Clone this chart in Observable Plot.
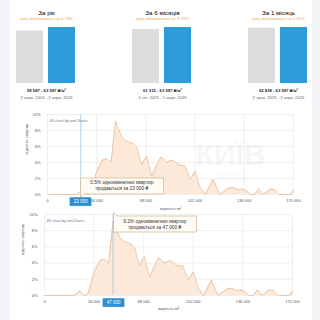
<!DOCTYPE html>
<html><head><meta charset="utf-8">
<script src="https://cdn.jsdelivr.net/npm/d3@7"></script>
<script src="https://cdn.jsdelivr.net/npm/@observablehq/plot@0.6"></script>
<style>
html,body{margin:0;padding:0;width:320px;height:320px;overflow:hidden;background:#f4f5f9;font-family:Roboto,"Liberation Sans",sans-serif;}
#card{position:absolute;left:10px;top:0;width:302px;height:320px;background:#fff;}
.chart{position:absolute;left:0;width:320px;}
#top{top:0}
#c1{top:105px}
#c2{top:205px}
</style></head><body>
<div id="card"></div>
<div id="top" class="chart"></div>
<div id="c1" class="chart"></div>
<div id="c2" class="chart"></div>
<script>
// ---- top panels ----
const periodLabels = ["За рік", "За 6 місяців", "За 1 місяць"];
const changeLabels = ["ціна збільшилась на 6.73%", "ціна збільшилась на 3.71%", "ціна збільшилась на 1.21%"];
const startPrices = [59587, 61315, 62838];
const endPrices = [63597, 63597, 63597];
const dateRanges = ["2 черв. 2024 - 2 черв. 2025", "1 січ. 2025 - 2 черв. 2025", "2 трав. 2025 - 2 черв. 2025"];

// ---- distribution ----
const priceBins = [0, 20000, 22000, 24000, 26000, 28000, 30000, 34000, 38000, 41000, 44000, 47000, 49000, 52000, 55000, 59000, 62000, 65000, 68500, 72000, 76000, 78500, 82000, 86000, 91000, 95000, 98500, 102000, 105500, 109000, 114500, 119000, 125000, 128000, 132000, 135000, 138000, 140000, 143000, 146000, 149000, 154000, 157000, 160000, 168000, 170000];
const apartmentShares = [0, 0, 0.2, 0.6, 0.2, 0, 0.3, 2.9, 4.3, 4.5, 4.0, 9.2, 8.2, 7.0, 6.6, 6.4, 5.8, 3.7, 4.8, 2.3, 3.9, 4.7, 4.0, 4.3, 3.7, 3.6, 1.9, 2.9, 0.9, 0, 1.9, 0, 0.8, 0.9, 0.6, 0.7, 0.4, 0, 0, 0.7, 0, 0.7, 0.6, 0, 0, 0.6];
const xTickValues = [0, 34000, 68000, 102000, 136000, 170000];
const yTickValues = [0, 2, 4, 6, 8, 10];
const cursorPrices = [23000, 47000];
const cursorShares = [0.5, 9.2];

const fmt = n => d3.format(",")(n).replace(/,/g, " ");
const FONT = "'Liberation Sans', Roboto, sans-serif";

// top plot
const panels = periodLabels.map((p, i) => ({
  period: p, change: changeLabels[i],
  range: `${fmt(startPrices[i])} - ${fmt(endPrices[i])} ₴/м²`,
  dates: dateRanges[i]
}));
const bars = periodLabels.flatMap((p, i) => [
  {period: p, kind: "start", value: startPrices[i]},
  {period: p, kind: "end", value: endPrices[i]}
]);

const topPlot = Plot.plot({
  width: 320, height: 105,
  marginTop: 27, marginBottom: 22, marginLeft: 16, marginRight: 12,
  style: {background: "transparent", fontFamily: FONT, overflow: "visible", color: "#000"},
  fx: {domain: periodLabels, paddingInner: 0.485, paddingOuter: 0, axis: null, label: null},
  x: {domain: ["start", "end"], paddingInner: 0.15, paddingOuter: 0, axis: null},
  y: {domain: [0, d3.max(endPrices)], axis: null},
  color: {domain: ["start", "end"], range: ["#dcdcdc", "#2d9cd8"]},
  marks: [
    Plot.barY(bars, {fx: "period", x: "kind", y: "value", fill: "kind"}),
    Plot.text(panels, {fx: "period", text: "period", frameAnchor: "top", dy: -17, fontSize: 6.2, fill: "black"}),
    Plot.text(panels, {fx: "period", text: "change", frameAnchor: "top", dy: -10, fontSize: 4.2, fill: "#e5a23f"}),
    Plot.text(panels, {fx: "period", text: "range", frameAnchor: "bottom", dy: 8, fontSize: 4.2, fontWeight: "bold", fill: "#222222"}),
    Plot.text(panels, {fx: "period", text: "dates", frameAnchor: "bottom", dy: 15, fontSize: 4.2, fill: "#666666"})
  ]
});
document.getElementById("top").append(topPlot);

const dist = priceBins.map((p, i) => ({price: p, share: apartmentShares[i]}));
const pad = "\u2002\u2002\u2002";

function areaChart({idx, height, marginTop, marginBottom, marginLeft, marginRight, tipAnchor, tipDy, labelDy, ylabelDx, watermark}) {
  const cur = [{price: cursorPrices[idx], share: cursorShares[idx]}];
  const marks = [
    Plot.gridX(xTickValues, {stroke: "#e4e4e4", strokeOpacity: 1, strokeWidth: 0.6}),
    Plot.gridY(yTickValues, {stroke: "#e4e4e4", strokeOpacity: 1, strokeWidth: 0.6}),
    Plot.areaY(dist, {x: "price", y: "share", fill: "#fde9da"}),
    Plot.lineY(dist, {x: "price", y: "share", stroke: "#e3b48e", strokeWidth: 0.7})
  ];
  if (watermark) {
    marks.push(
      Plot.text(["КИЇВ"], {text: d => d, frameAnchor: "right", textAnchor: "middle", dx: -63, dy: 1, fontSize: 30, fontWeight: "bold", fill: "#c8c8c8", fillOpacity: 0.16}),
      Plot.text(["INFO"], {text: d => d, frameAnchor: "right", textAnchor: "middle", dx: -63, dy: 24, fontSize: 12, fill: "#c8c8c8", fillOpacity: 0.16})
    );
  }
  marks.push(
    Plot.ruleX(cur, {x: "price", stroke: "#8ec0e0", strokeWidth: 0.7}),
    Plot.axisX(xTickValues, {tickSize: 0, tickPadding: 4.5, tickFormat: fmt, label: null, fontSize: 4, fill: "#555"}),
    Plot.axisY(yTickValues, {tickSize: 0, tickPadding: 7, tickFormat: d => d + "%", label: null, fontSize: 4, fill: "#555"}),
    Plot.text(["відсоток квартир"], {text: d => d, frameAnchor: "left", dx: ylabelDx, rotate: -90, fontSize: 4, fill: "#555"}),
    Plot.text(["вартість м²"], {text: d => d, frameAnchor: "bottom", dy: labelDy, fontSize: 4.2, fill: "#555"}),
    Plot.text(["JS chart by amCharts"], {text: d => d, frameAnchor: "top-left", textAnchor: "start", dx: 1.5, dy: 5, fontSize: 4, fill: "#777"}),
    Plot.tip(cur, {
      x: "price", y: "share",
      title: d => `${pad}${d.share}% однокімнатних квартир${pad}\n${pad}продаються за ${fmt(d.price)} ₴${pad}`,
      anchor: tipAnchor, dy: tipDy, pointerSize: 3.5, textPadding: 2.5, lineHeight: 1.25,
      fontSize: 4.8, fill: "#fffcf6", stroke: "#c8a878", strokeWidth: 0.6, pathFilter: "none",
      lineWidth: 200, textAnchor: "middle"
    }),
    Plot.tip(cur, {
      x: "price", frameAnchor: "bottom",
      title: d => `\u2002${fmt(d.price)}\u2002`,
      anchor: "top", dy: 3, pointerSize: 0, textPadding: 1.6, lineHeight: 1,
      fontSize: 4.5, fill: "#2b8fcf", stroke: "#2b8fcf", strokeWidth: 0.5, pathFilter: "none",
      lineWidth: 50
    })
  );
  const svg = Plot.plot({
    width: 320, height, marginTop, marginBottom, marginLeft, marginRight,
    style: {background: "transparent", fontFamily: FONT, fontSize: "4px", overflow: "visible", color: "#333"},
    x: {domain: [0, 170000]},
    y: {domain: [0, 10]},
    marks
  });
  const tips = svg.querySelectorAll('g[aria-label="tip"]');
  if (tips.length) tips[tips.length - 1].style.color = "#ffffff";
  return svg;
}

document.getElementById("c1").append(areaChart({
  idx: 0, height: 110, marginTop: 9, marginBottom: 21, marginLeft: 47, marginRight: 27,
  tipAnchor: "bottom-left", tipDy: 7, labelDy: 15, ylabelDx: -21, watermark: true
}));
document.getElementById("c2").append(areaChart({
  idx: 1, height: 115, marginTop: 9, marginBottom: 25, marginLeft: 44, marginRight: 28,
  tipAnchor: "top-left", tipDy: -8, labelDy: 14, ylabelDx: -22, watermark: false
}));
</script>
</body></html>
